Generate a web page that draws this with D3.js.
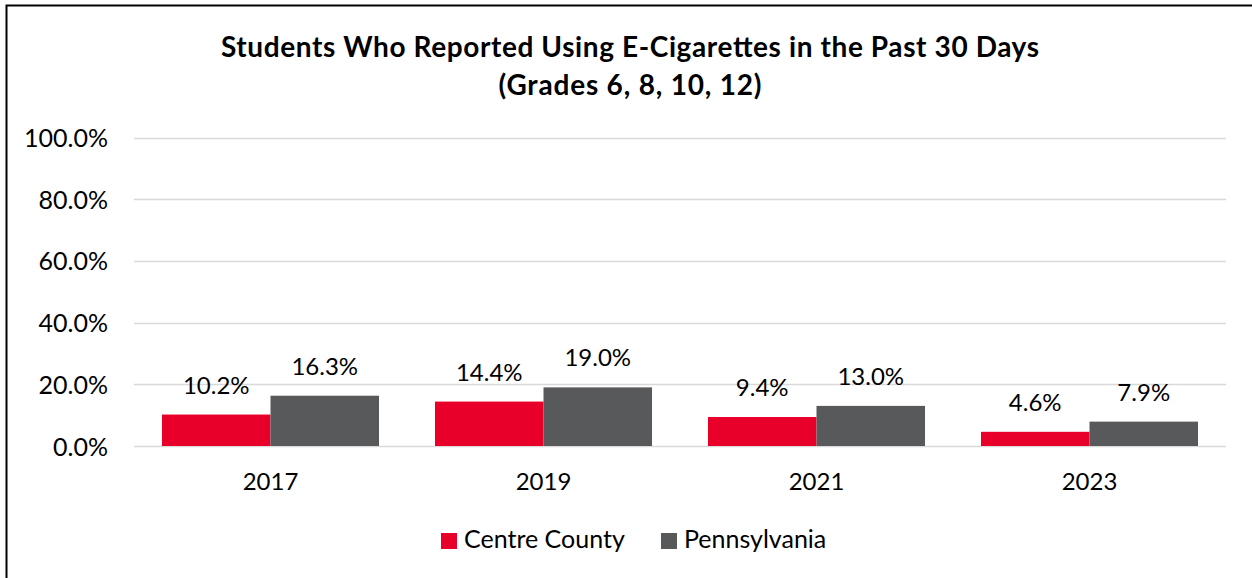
<!DOCTYPE html>
<html><head><meta charset="utf-8">
<script src="https://cdn.jsdelivr.net/npm/d3@7"></script>
<style>html,body{margin:0;padding:0;background:#fff;}svg{display:block;}</style>
</head><body>
<script>
const years = ["2017", "2019", "2021", "2023"];
const seriesNames = ["Centre County", "Pennsylvania"];
const centreCounty = [10.2, 14.4, 9.4, 4.6];
const pennsylvania = [16.3, 19.0, 13.0, 7.9];
const yTicks = [0, 20, 40, 60, 80, 100];
const colors = ["#E8002A", "#58595B"];
const titleLines = ["Students Who Reported Using E-Cigarettes in the Past 30 Days", "(Grades 6, 8, 10, 12)"];
const titleWidths = [818, 263];

const W = 1252, H = 578;
const font = "Lato, 'Open Sans', sans-serif";
const svg = d3.select("body").append("svg").attr("width", W).attr("height", H);
svg.append("rect").attr("width", W).attr("height", H).attr("fill", "#fff");
// border (right/bottom outside view)
svg.append("rect").attr("x", 6.5).attr("y", 5.5).attr("width", W + 10).attr("height", H + 10)
  .attr("fill", "none").attr("stroke", "#000").attr("stroke-width", 2);

const x0 = d3.scaleBand().domain(years).range([134, 1226]).paddingInner(0.205).paddingOuter(0.1025);
const x1 = d3.scaleBand().domain(seriesNames).range([0, x0.bandwidth()]);
const y = d3.scaleLinear().domain([0, 100]).range([446, 137.5]);

// gridlines
svg.append("g").selectAll("line").data(yTicks).join("line")
  .attr("x1", 134).attr("x2", 1226)
  .attr("y1", d => Math.round(y(d)) + 0.5).attr("y2", d => Math.round(y(d)) + 0.5)
  .attr("stroke", "#D9D9D9").attr("stroke-width", 1.5);

// y axis labels
const yAxis = d3.axisLeft(y).tickValues(yTicks).tickFormat(d => d3.format(".1f")(d) + "%").tickSize(0).tickPadding(0);
const ya = svg.append("g").attr("transform", "translate(108,0)").call(yAxis);
ya.select(".domain").remove();
ya.selectAll("text").attr("font-family", font).attr("font-size", 25).attr("fill", "#000").attr("dy", "0.36em");

// bars
const data = years.map((yr, i) => ({ yr, vals: [centreCounty[i], pennsylvania[i]] }));
const g = svg.append("g").selectAll("g").data(data).join("g")
  .attr("transform", d => `translate(${x0(d.yr)},0)`);
g.selectAll("rect").data(d => d.vals.map((v, j) => ({ v, s: seriesNames[j], j }))).join("rect")
  .attr("x", d => x1(d.s)).attr("width", x1.bandwidth())
  .attr("y", d => y(d.v)).attr("height", d => y(0) - y(d.v))
  .attr("fill", d => colors[d.j]);
g.selectAll("text").data(d => d.vals.map((v, j) => ({ v, s: seriesNames[j], j }))).join("text")
  .attr("x", d => x1(d.s) + x1.bandwidth() / 2).attr("y", d => y(d.v) - 21)
  .attr("text-anchor", "middle").attr("font-family", font).attr("font-size", 24).attr("fill", "#000")
  .text(d => d3.format(".1f")(d.v) + "%");

// x axis labels
const xAxis = d3.axisBottom(x0).tickSize(0).tickPadding(0);
const xa = svg.append("g").attr("transform", "translate(0,490)").call(xAxis);
xa.select(".domain").remove();
xa.selectAll("text").attr("font-family", font).attr("font-size", 24).attr("fill", "#000").attr("dy", 0);

// title
svg.append("g").selectAll("text").data(titleLines).join("text")
  .attr("x", 630).attr("y", (d, i) => 57 + i * 38)
  .attr("text-anchor", "middle").attr("font-family", font).attr("font-weight", "bold")
  .attr("font-size", 28).attr("fill", "#000")
  .attr("textLength", (d, i) => titleWidths[i]).attr("lengthAdjust", "spacing")
  .text(d => d);

// legend
const legX = [441, 661];
const lg = svg.append("g").selectAll("g").data(seriesNames).join("g")
  .attr("transform", (d, i) => `translate(${legX[i]},533)`);
lg.append("rect").attr("width", 16).attr("height", 16).attr("fill", (d, i) => colors[i]);
lg.append("text").attr("x", 23).attr("y", 15).attr("font-family", font).attr("font-size", 25)
  .attr("fill", "#000").text(d => d);
</script>
</body></html>
